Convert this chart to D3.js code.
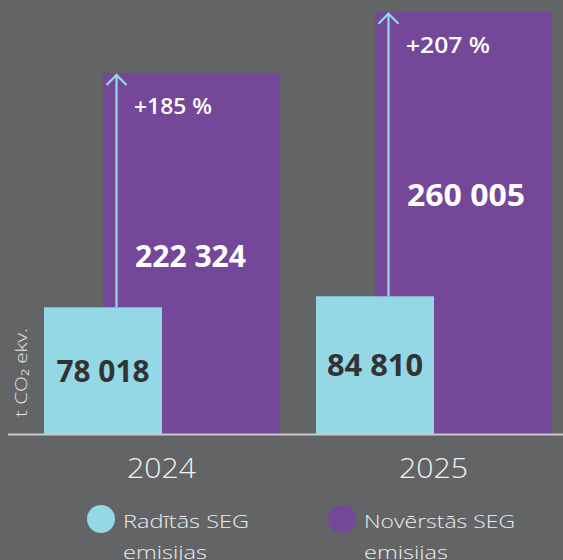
<!DOCTYPE html>
<html>
<head>
<meta charset="utf-8">
<script src="https://cdn.jsdelivr.net/npm/d3@7"></script>
<style>
  html, body { margin: 0; padding: 0; background: #636466; }
  svg { display: block; }
  text { font-family: "Open Sans", "Noto Sans", sans-serif; }
</style>
</head>
<body>
<div id="chart"></div>
<script>
// ---- data ----
const years = ["2024", "2025"];
const produced = [78018, 84810];          // Radītās SEG emisijas
const avoided = [222324, 260005];         // Novērstās SEG emisijas
const producedLabels = ["78 018", "84 810"];
const avoidedLabels = ["222 324", "260 005"];
const pctLabels = ["+185 %", "+207 %"];
const legendLabels = [["Radītās SEG", "emisijas"], ["Novērstās SEG", "emisijas"]];
const axisLabel = "t CO₂ ekv.";

// ---- layout ----
const W = 563, H = 560;
const colCyan = "#94d7e5", colPurple = "#744799", bg = "#636466";
const baseY = 434;

const svg = d3.select("#chart").append("svg").attr("width", W).attr("height", H);
svg.append("rect").attr("width", W).attr("height", H).attr("fill", bg);

const x = d3.scaleBand().domain(years).range([44, 588]).padding(0);
const y = d3.scaleLinear().domain([0, 222324]).range([baseY, 73]);

const cyanW = 118, purpleOff = 59, purpleW = 177;

const g = svg.append("g");
const rows = years.map((yr, i) => ({ yr, p: produced[i], a: avoided[i], pl: producedLabels[i], al: avoidedLabels[i], pct: pctLabels[i] }));

// purple bars
g.selectAll(".av").data(rows).join("rect")
  .attr("x", d => x(d.yr) + purpleOff).attr("width", purpleW)
  .attr("y", d => y(d.a)).attr("height", d => baseY - y(d.a))
  .attr("fill", colPurple);

// arrows
const arrowX = d => x(d.yr) + 72.5;
g.selectAll(".arr").data(rows).join("line")
  .attr("x1", arrowX).attr("x2", arrowX)
  .attr("y1", d => y(d.p)).attr("y2", d => y(d.a) + 1)
  .attr("stroke", colCyan).attr("stroke-width", 2.2);
g.selectAll(".arrh").data(rows).join("path")
  .attr("d", d => `M${arrowX(d) - 10},${y(d.a) + 12} L${arrowX(d)},${y(d.a) + 2} L${arrowX(d) + 10},${y(d.a) + 12}`)
  .attr("fill", "none").attr("stroke", colCyan).attr("stroke-width", 2.2);

// cyan bars
g.selectAll(".pr").data(rows).join("rect")
  .attr("x", d => x(d.yr)).attr("width", cyanW)
  .attr("y", d => y(d.p)).attr("height", d => baseY - y(d.p))
  .attr("fill", colCyan);

// baseline
svg.append("line").attr("x1", 8).attr("x2", W).attr("y1", baseY + 0.5).attr("y2", baseY + 0.5)
  .attr("stroke", "#c9c9c9").attr("stroke-width", 2);

// labels
g.selectAll(".pl").data(rows).join("text")
  .attr("x", d => x(d.yr) + cyanW / 2).attr("y", d => (y(d.p) + baseY) / 2 + 11)
  .attr("text-anchor", "middle").attr("fill", "#333333")
  .attr("font-size", 30).attr("font-weight", 700)
  .attr("textLength", (d, i) => i === 0 ? 93 : 96).attr("lengthAdjust", "spacingAndGlyphs")
  .text(d => d.pl);

g.selectAll(".al").data(rows).join("text")
  .attr("x", d => x(d.yr) + 91).attr("y", d => y(d.a) + 194)
  .attr("fill", "#ffffff").attr("font-size", 30).attr("font-weight", 700)
  .attr("textLength", (d, i) => i === 0 ? 111 : 118).attr("lengthAdjust", "spacingAndGlyphs")
  .text(d => d.al);

g.selectAll(".pct").data(rows).join("text")
  .attr("x", d => x(d.yr) + 90).attr("y", d => y(d.a) + 41)
  .attr("fill", "#ffffff").attr("font-size", 22).attr("font-weight", 600)
  .attr("textLength", (d, i) => i === 0 ? 78 : 84).attr("lengthAdjust", "spacingAndGlyphs")
  .text(d => d.pct);

// x axis labels
g.selectAll(".yr").data(rows).join("text")
  .attr("x", d => x(d.yr) + cyanW - 0.5).attr("y", 478)
  .attr("text-anchor", "middle").attr("fill", "#f2f2f2")
  .attr("font-size", 27).attr("font-weight", 300)
  .attr("textLength", 69).attr("lengthAdjust", "spacingAndGlyphs")
  .text(d => d.yr);

// y axis label
svg.append("text")
  .attr("transform", `translate(27,417) rotate(-90)`)
  .attr("fill", "#e8e8e8").attr("font-size", 17).attr("font-weight", 300)
  .attr("textLength", 89).attr("lengthAdjust", "spacingAndGlyphs")
  .text(axisLabel);

// legend
const legX = [101, 342];
const legW = [[126, 0], [151, 0]];
const legCols = [colCyan, colPurple];
const lg = svg.selectAll(".leg").data(legendLabels).join("g")
  .attr("transform", (d, i) => `translate(${legX[i]},519)`);
lg.append("circle").attr("r", 14).attr("fill", (d, i) => legCols[i]);
lg.each(function (lines, i) {
  lines.forEach((ln, j) => {
    const t = d3.select(this).append("text").attr("x", 22).attr("y", 9 + j * 31)
      .attr("fill", "#eeeeee").attr("font-size", 19).attr("font-weight", 300)
      .text(ln);
    if (j === 0) t.attr("textLength", legW[i][0]).attr("lengthAdjust", "spacingAndGlyphs");
    else t.attr("textLength", 84).attr("lengthAdjust", "spacingAndGlyphs");
  });
});
</script>
</body>
</html>
